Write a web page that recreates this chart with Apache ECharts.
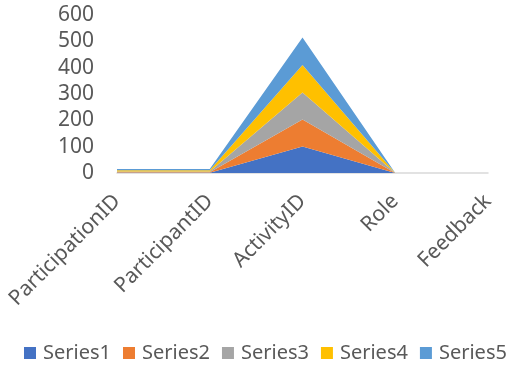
<!DOCTYPE html>
<html>
<head>
<meta charset="utf-8">
<script src="https://cdn.jsdelivr.net/npm/echarts@6/dist/echarts.min.js"></script>
<style>
  html, body { margin: 0; padding: 0; background: #fff; }
  #chart { width: 510px; height: 365px; }
</style>
</head>
<body>
<div id="chart"></div>
<script>
// Stacked area chart: five series over five field categories
const categories = ['ParticipationID', 'ParticipantID', 'ActivityID', 'Role', 'Feedback'];
const seriesNames = ['Series1', 'Series2', 'Series3', 'Series4', 'Series5'];
const series1 = [1, 1, 101, 0, 0];
const series2 = [2, 2, 102, 0, 0];
const series3 = [3, 3, 103, 0, 0];
const series4 = [4, 4, 104, 0, 0];
const series5 = [5, 5, 105, 0, 0];
const yTicks = [0, 100, 200, 300, 400, 500, 600];

const colors = ['#4472C4', '#ED7D31', '#A5A5A5', '#FFC000', '#5B9BD5'];
const values = [series1, series2, series3, series4, series5];
const font = 'Noto Sans';

const chart = echarts.init(document.getElementById('chart'));
chart.setOption({
  animation: false,
  color: colors,
  grid: { left: 117, right: 22, top: 15, bottom: 192, containLabel: false },
  legend: {
    top: 343,
    left: 24,
    width: 486,
    padding: 0,
    icon: 'rect',
    itemWidth: 12,
    itemHeight: 12,
    itemGap: 12,
    textStyle: { fontFamily: font, fontSize: 20, color: '#595959', padding: [0, 0, 0, 2] },
    data: seriesNames
  },
  xAxis: {
    type: 'category',
    data: categories,
    boundaryGap: false,
    axisLine: { lineStyle: { color: '#D9D9D9', width: 1.5 } },
    axisTick: { show: false },
    axisLabel: {
      rotate: 45,
      interval: 0,
      margin: 25,
      fontFamily: font,
      fontSize: 21,
      color: '#595959'
    },
    splitLine: { show: false }
  },
  yAxis: {
    type: 'value',
    min: yTicks[0],
    max: yTicks[yTicks.length - 1],
    interval: 100,
    axisLine: { show: false },
    axisTick: { show: false },
    splitLine: { show: false },
    axisLabel: { margin: 23, fontFamily: font, fontSize: 21, color: '#595959' }
  },
  series: values.map((v, i) => ({
    name: seriesNames[i],
    type: 'line',
    stack: 'total',
    data: v,
    symbol: 'none',
    lineStyle: { width: 0 },
    areaStyle: { color: colors[i], opacity: 1 },
    emphasis: { disabled: true }
  }))
});
</script>
</body>
</html>
